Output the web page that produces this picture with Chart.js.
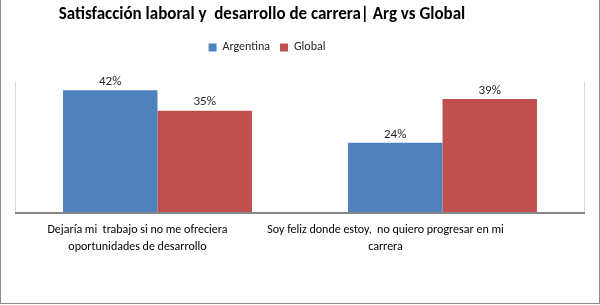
<!DOCTYPE html>
<html lang="es">
<head>
    <meta charset="UTF-8">
    <title>Satisfacción laboral</title>
    <script src="https://cdn.jsdelivr.net/npm/chart.js"></script>
    <style>
        html, body { margin: 0; padding: 0; background: #fff; }
        #wrap {
            position: relative;
            width: 598px; height: 303px;
            border: 1px solid #8c8c8c; border-top: none;
            background: #fff;
        }
    </style>
</head>
<body>
    <div id="wrap"><canvas id="chart"></canvas></div>

    <script>
        // Datos
        const categorias = [
            ['Dejaría mi  trabajo si no me ofreciera', 'oportunidades de desarrollo'],
            ['Soy feliz donde estoy,  no quiero progresar en mi', 'carrera']
        ];
        const argentina = [42, 24];
        const global = [35, 39];

        const FONT = "Carlito, 'Liberation Sans Narrow', 'Liberation Sans', sans-serif";

        // Etiquetas de valor encima de las barras
        const valueLabels = {
            id: 'valueLabels',
            afterDatasetsDraw(chart) {
                const ctx = chart.ctx;
                ctx.save();
                ctx.font = '13px ' + FONT;
                ctx.fillStyle = '#262626';
                ctx.textAlign = 'center';
                ctx.textBaseline = 'bottom';
                chart.data.datasets.forEach((ds, i) => {
                    chart.getDatasetMeta(i).data.forEach((bar, j) => {
                        ctx.fillText(ds.data[j] + '%', bar.x, bar.y - 2);
                    });
                });
                ctx.restore();
            }
        };

        // Lineas del area de trazado
        const frame = {
            id: 'frame',
            afterDatasetsDraw(chart) {
                const a = chart.chartArea, ctx = chart.ctx;
                ctx.save();
                ctx.strokeStyle = '#d9d9d9';
                ctx.lineWidth = 1;
                ctx.beginPath();
                ctx.moveTo(a.left + 0.5, a.top); ctx.lineTo(a.left + 0.5, a.bottom);
                ctx.moveTo(a.right - 0.5, a.top); ctx.lineTo(a.right - 0.5, a.bottom);
                ctx.stroke();
                ctx.strokeStyle = '#868686';
                ctx.lineWidth = 2;
                ctx.beginPath();
                ctx.moveTo(a.left, a.bottom); ctx.lineTo(a.right, a.bottom);
                ctx.stroke();
                ctx.restore();
            }
        };

        // Etiquetas de categoria: Excel las deja algo a la izquierda de cada grupo
        const desplaz = [-20, -57];
        const catLabels = {
            id: 'catLabels',
            afterDraw(chart) {
                const x = chart.scales.x, ctx = chart.ctx;
                ctx.save();
                ctx.font = '12px ' + FONT;
                ctx.fillStyle = '#000';
                ctx.textAlign = 'center';
                ctx.textBaseline = 'middle';
                chart.data.labels.forEach((lines, i) => {
                    const px = x.getPixelForTick(i) + desplaz[i];
                    lines.forEach((t, k) => ctx.fillText(t, px, chart.chartArea.bottom + 17 + k * 17));
                });
                ctx.restore();
            }
        };

        // Espacio bajo la leyenda y titulo/leyenda algo a la izquierda, como en Excel
        const ajustes = {
            id: 'ajustes',
            beforeInit(chart) {
                const fit = chart.legend.fit;
                chart.legend.fit = function () {
                    fit.call(this);
                    this.height += 18;
                };
            },
            afterLayout(chart) {
                chart.titleBlock.left -= 38;
                chart.titleBlock.right -= 38;
                chart.legend.left -= 33;
                chart.legend.right -= 33;
            }
        };

        const ctx = document.getElementById('chart').getContext('2d');
        new Chart(ctx, {
            type: 'bar',
            data: {
                labels: categorias,
                datasets: [
                    { label: 'Argentina', data: argentina, backgroundColor: '#4F81BD' },
                    { label: 'Global', data: global, backgroundColor: '#C0504D' }
                ]
            },
            options: {
                responsive: true,
                maintainAspectRatio: false,
                animation: false,
                layout: { padding: { left: 14, right: 14, top: 0, bottom: 90 } },
                datasets: { bar: { categoryPercentage: 0.663, barPercentage: 1.0 } },
                scales: {
                    x: { display: false },
                    y: { display: false, min: 0, max: 45 }
                },
                plugins: {
                    title: {
                        display: true,
                        text: 'Satisfacción laboral y  desarrollo de carrera| Arg vs Global',
                        color: '#000',
                        font: { family: FONT, size: 17, weight: 'bold' },
                        padding: { top: 5, bottom: 6 }
                    },
                    legend: {
                        labels: {
                            color: '#262626',
                            font: { family: FONT, size: 12 },
                            boxWidth: 8, boxHeight: 8,
                            padding: 10
                        }
                    },
                    tooltip: { enabled: false }
                }
            },
            plugins: [valueLabels, frame, catLabels, ajustes]
        });
    </script>
</body>
</html>
